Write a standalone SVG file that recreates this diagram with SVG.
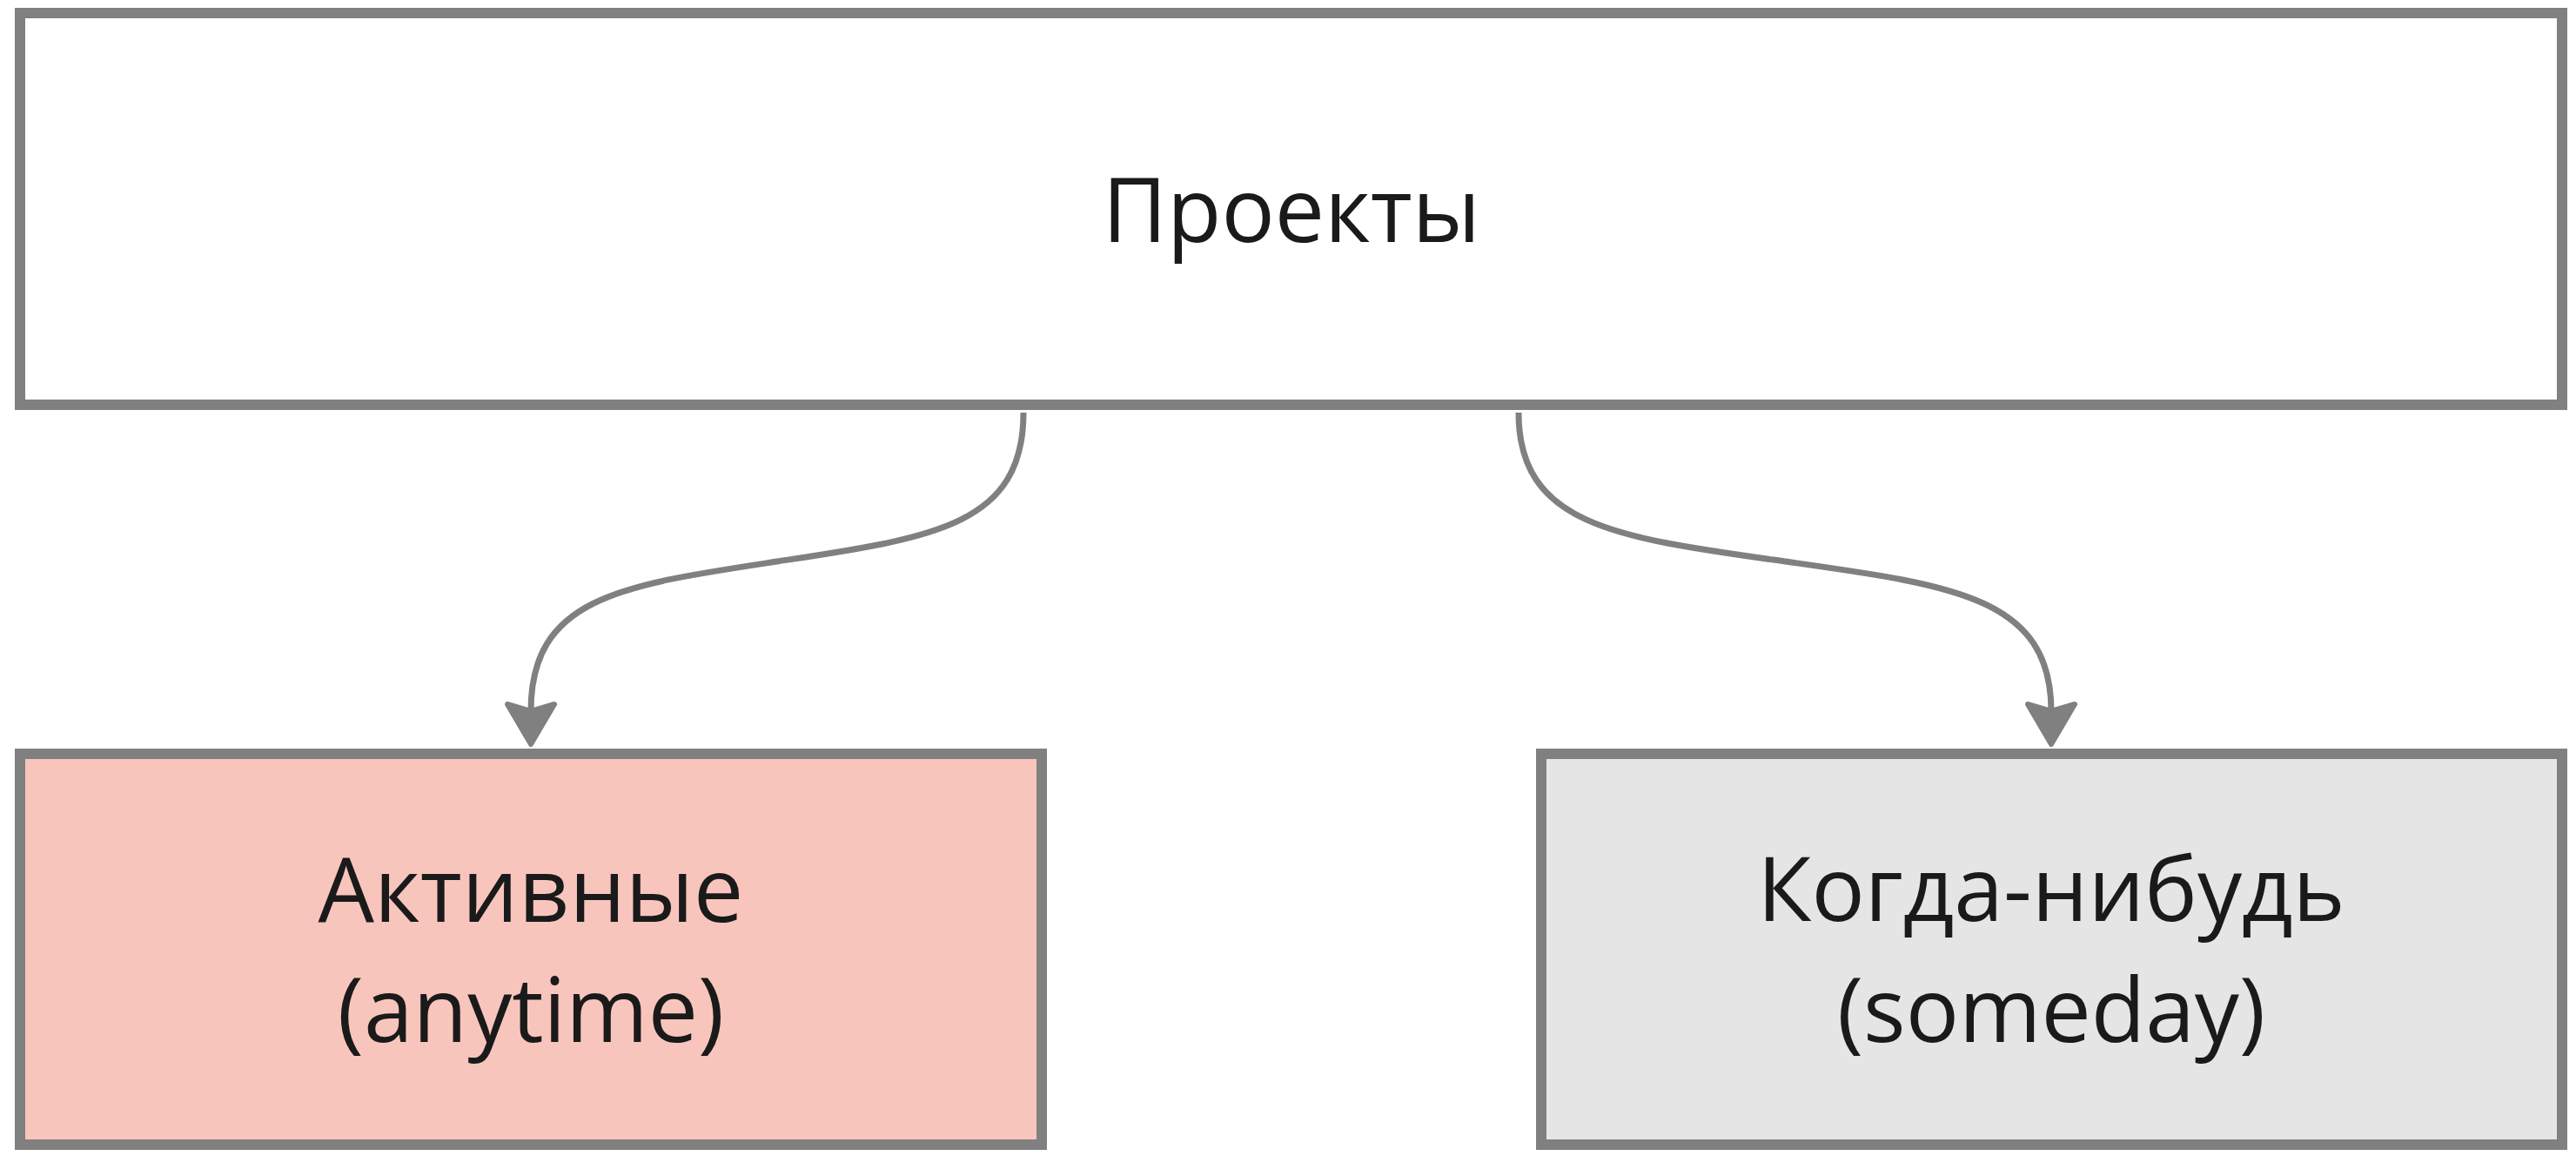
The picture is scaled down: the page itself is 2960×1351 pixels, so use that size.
<svg xmlns="http://www.w3.org/2000/svg" width="2960" height="1351" viewBox="0 0 2960 1351">
  <style>
    .box { stroke: #808080; stroke-width: 12; }
    .label { font-family: "Open Sans", "Noto Sans", "DejaVu Sans", sans-serif; font-size: 102px; fill: #1a1a1a; text-anchor: middle; }
    .edge { fill: none; stroke: #808080; stroke-width: 7; }
  </style>
  <defs>
    <marker id="arrow" markerUnits="userSpaceOnUse" orient="auto" markerWidth="80" markerHeight="80" refX="0" refY="0" viewBox="-20 -40 80 80" overflow="visible">
      <path d="M38,0 L-8,-27 L0,0 L-8,27 Z" fill="#808080" stroke="#808080" stroke-width="6" stroke-linejoin="round"/>
    </marker>
  </defs>
  <rect x="0" y="0" width="2960" height="1351" fill="#ffffff"/>
  <g id="node-projects">
    <rect class="box" x="23" y="15" width="2921" height="450" fill="#ffffff"/>
    <text class="label" x="1484" y="278">Проекты</text>
  </g>
  <g id="node-active">
    <rect class="box" x="23" y="866" width="1174" height="449" fill="#f8c5bd"/>
    <text class="label" x="610" y="1059">Активные</text>
    <text class="label" x="610" y="1197">(anytime)</text>
  </g>
  <g id="node-someday">
    <rect class="box" x="1771" y="866" width="1173" height="449" fill="#e5e5e5"/>
    <text class="label" x="2357" y="1058">Когда-нибудь</text>
    <text class="label" x="2357" y="1197">(someday)</text>
  </g>
  <g id="connectors">
    <path class="edge" d="M1176,474 C1176,605 1070,618 893,645 S610,685 610,817" marker-end="url(#arrow)"/>
    <path class="edge" d="M1745,474 C1745,605 1860,618 2051,645 S2357,685 2357,817" marker-end="url(#arrow)"/>
  </g>
</svg>
